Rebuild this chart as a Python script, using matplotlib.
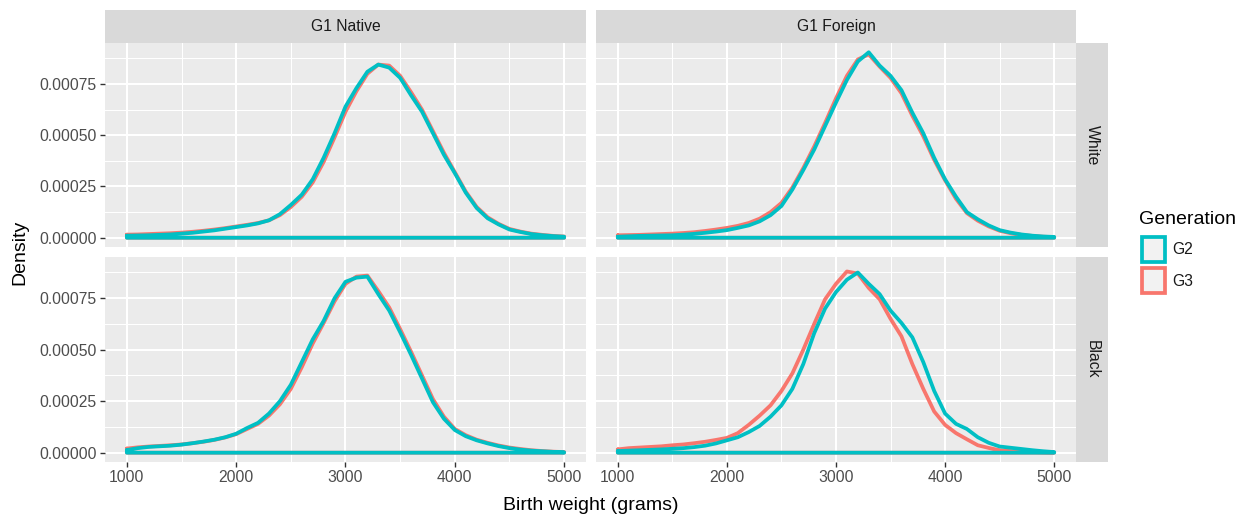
import numpy as np
import matplotlib
matplotlib.use("Agg")
import matplotlib.pyplot as plt
from matplotlib.patches import Rectangle
from matplotlib.ticker import MultipleLocator, FormatStrFormatter

plt.rcParams['font.family'] = ['Liberation Sans', 'DejaVu Sans']

# ---------------- data ----------------
weight = [1000, 1100, 1200, 1300, 1400, 1500, 1600, 1700, 1800, 1900, 2000,
          2100, 2200, 2300, 2400, 2500, 2600, 2700, 2800, 2900, 3000,
          3100, 3200, 3300, 3400, 3500, 3600, 3700, 3800, 3900, 4000,
          4100, 4200, 4300, 4400, 4500, 4600, 4700, 4800, 4900, 5000]

origins = ['G1 Native', 'G1 Foreign']
races = ['White', 'Black']
generations = ['G2', 'G3']
gen_colors = {'G2': '#00BFC4', 'G3': '#F8766D'}

density_unit = 1e-5  # values below are density x 1e5

native_white_g2 = [1.0, 1.1, 1.2, 1.4, 1.6, 2.0, 2.4, 3.0, 3.6, 4.4, 5.2,
                   6.0, 7.0, 8.5, 11.5, 16.0, 21.0, 28.5, 39.0, 51.0, 64.0,
                   73.0, 81.0, 84.5, 83.0, 78.0, 69.5, 61.5, 51.0, 40.5, 31.5,
                   22.0, 14.5, 9.5, 6.5, 4.0, 2.8, 1.8, 1.2, 0.8, 0.5]
native_white_g3 = [1.5, 1.6, 1.8, 2.0, 2.2, 2.5, 2.9, 3.4, 4.0, 4.7, 5.5,
                   6.3, 7.2, 8.5, 11.0, 15.0, 20.0, 27.0, 37.0, 49.0, 61.5,
                   71.5, 80.0, 84.5, 84.0, 79.0, 71.0, 62.5, 52.0, 41.5, 32.0,
                   22.5, 15.0, 10.0, 6.8, 4.3, 3.0, 2.0, 1.4, 0.9, 0.6]

foreign_white_g2 = [0.5, 0.7, 0.9, 1.0, 1.1, 1.2, 1.5, 1.9, 2.4, 3.0, 3.7,
                    4.8, 6.0, 8.0, 11.0, 15.5, 23.5, 33.0, 43.0, 54.5, 66.0,
                    77.0, 86.0, 90.5, 84.0, 79.0, 72.0, 61.0, 51.0, 39.0, 28.5,
                    20.0, 12.5, 9.0, 6.0, 3.7, 2.5, 1.6, 1.0, 0.6, 0.4]
foreign_white_g3 = [1.2, 1.3, 1.4, 1.6, 1.8, 2.0, 2.3, 2.7, 3.3, 4.0, 4.8,
                    5.8, 7.2, 9.3, 12.5, 17.0, 24.5, 34.0, 44.5, 56.0, 68.0,
                    79.0, 87.0, 89.5, 83.5, 78.0, 70.5, 59.5, 49.5, 38.0, 28.0,
                    19.0, 12.0, 8.3, 5.5, 3.4, 2.2, 1.4, 0.9, 0.5, 0.3]

native_black_g2 = [1.3, 2.2, 2.8, 3.1, 3.4, 3.9, 4.6, 5.4, 6.3, 7.5, 9.2,
                   12.0, 14.5, 19.0, 25.0, 33.0, 44.0, 55.0, 64.0, 75.0, 83.0,
                   85.0, 85.5, 77.0, 69.0, 58.5, 47.5, 36.0, 24.5, 16.5, 11.0,
                   8.0, 6.0, 4.5, 3.2, 2.2, 1.5, 1.0, 0.7, 0.4, 0.2]
native_black_g3 = [2.0, 2.6, 3.0, 3.3, 3.6, 4.0, 4.6, 5.3, 6.2, 7.4, 9.0,
                   11.5, 14.0, 18.0, 23.5, 31.0, 41.5, 53.0, 63.0, 73.5, 82.0,
                   85.5, 86.0, 78.5, 70.5, 60.0, 49.0, 37.5, 26.0, 17.5, 11.5,
                   8.5, 6.3, 4.8, 3.5, 2.5, 1.8, 1.2, 0.8, 0.5, 0.3]

foreign_black_g2 = [0.8, 1.0, 1.2, 1.4, 1.6, 1.9, 2.2, 2.7, 3.4, 4.5, 6.0,
                    7.5, 10.0, 13.0, 17.5, 23.0, 31.0, 43.0, 58.0, 70.0, 78.0,
                    84.0, 87.5, 82.0, 77.0, 69.0, 63.0, 56.0, 44.0, 30.0, 19.0,
                    14.0, 11.5, 7.5, 4.8, 3.0, 2.4, 1.8, 1.2, 0.7, 0.3]
foreign_black_g3 = [1.6, 2.2, 2.5, 2.8, 3.1, 3.6, 4.0, 4.6, 5.3, 6.2, 7.2,
                    9.5, 13.5, 18.0, 23.0, 30.0, 38.5, 50.0, 62.5, 74.5, 82.0,
                    88.0, 87.0, 80.0, 74.5, 65.0, 56.5, 43.0, 31.0, 20.0, 13.5,
                    9.5, 6.5, 3.6, 2.3, 1.2, 0.8, 0.5, 0.3, 0.2, 0.1]

curves = {
    ('White', 'G1 Native'): {'G2': native_white_g2, 'G3': native_white_g3},
    ('White', 'G1 Foreign'): {'G2': foreign_white_g2, 'G3': foreign_white_g3},
    ('Black', 'G1 Native'): {'G2': native_black_g2, 'G3': native_black_g3},
    ('Black', 'G1 Foreign'): {'G2': foreign_black_g2, 'G3': foreign_black_g3},
}

y_ticks = [0.0, 0.00025, 0.0005, 0.00075]
x_ticks = [1000, 2000, 3000, 4000, 5000]

# ---------------- layout ----------------
W, H = 1238, 517
fig = plt.figure(figsize=(W / 100, H / 100), dpi=100)
fig.patch.set_facecolor('white')

def fx(px):
    return px / W

def fy(py):
    return 1 - py / H

col_px = [(105, 586), (596, 1076)]
row_px = [(43, 247), (257, 462)]

x = np.array(weight, dtype=float)
xr = x.max() - x.min()
xlim = (x.min() - 0.05 * xr, x.max() + 0.05 * xr)
ymax = max(max(v) for d in curves.values() for v in d.values()) * density_unit
ylim = (-0.05 * ymax, 1.05 * ymax)

strip_fc = '#D9D9D9'
text_dark = '#1A1A1A'
tick_lab = '#4D4D4D'
lw_curve = 2.7

for r, race in enumerate(races):
    for c, origin in enumerate(origins):
        x0, x1 = col_px[c]
        y0, y1 = row_px[r]
        ax = fig.add_axes([fx(x0), fy(y1), (x1 - x0) / W, (y1 - y0) / H])
        ax.set_facecolor('#EBEBEB')
        for s in ax.spines.values():
            s.set_visible(False)
        ax.set_xlim(*xlim)
        ax.set_ylim(*ylim)
        ax.xaxis.set_major_locator(plt.FixedLocator(x_ticks))
        ax.xaxis.set_minor_locator(MultipleLocator(500))
        ax.yaxis.set_major_locator(plt.FixedLocator(y_ticks))
        ax.yaxis.set_minor_locator(MultipleLocator(0.000125))
        ax.yaxis.set_major_formatter(FormatStrFormatter('%.5f'))
        ax.grid(which='major', color='white', linewidth=1.45)
        ax.grid(which='minor', color='white', linewidth=0.75)
        ax.set_axisbelow(True)
        ax.tick_params(which='minor', length=0)
        ax.tick_params(which='major', length=3.5, width=1.0, color='#333333',
                       labelcolor=tick_lab, labelsize=11.3, pad=2.5)
        if c != 0:
            ax.tick_params(axis='y', which='major', length=0, labelleft=False)
        if r != len(races) - 1:
            ax.tick_params(axis='x', which='major', length=0, labelbottom=False)

        for g in ['G3', 'G2']:
            yv = np.array(curves[(race, origin)][g]) * density_unit
            px = np.concatenate([x, [x[-1], x[0], x[0]]])
            py = np.concatenate([yv, [0.0, 0.0, yv[0]]])
            ax.plot(px, py, color=gen_colors[g], linewidth=lw_curve,
                    solid_joinstyle='round', solid_capstyle='round', zorder=3)

# top strips
for c, origin in enumerate(origins):
    x0, x1 = col_px[c]
    fig.patches.append(Rectangle((fx(x0), fy(43)), (x1 - x0) / W, 33 / H,
                                 transform=fig.transFigure, facecolor=strip_fc,
                                 edgecolor='none'))
    fig.text(fx((x0 + x1) / 2), fy(26.5), origin, ha='center', va='center',
             fontsize=11.3, color=text_dark)

# right strips
for r, race in enumerate(races):
    y0, y1 = row_px[r]
    fig.patches.append(Rectangle((fx(1076), fy(y1)), 32 / W, (y1 - y0) / H,
                                 transform=fig.transFigure, facecolor=strip_fc,
                                 edgecolor='none'))
    fig.text(fx(1092), fy((y0 + y1) / 2), race, ha='center', va='center',
             rotation=-90, fontsize=11.3, color=text_dark)

# axis titles
fig.text(fx(20), fy((43 + 462) / 2), 'Density', rotation=90, ha='center',
         va='center', fontsize=14, color='black')
fig.text(fx((105 + 1076) / 2), fy(505), 'Birth weight (grams)', ha='center',
         va='center', fontsize=14, color='black')

# legend
fig.text(fx(1139), fy(220), 'Generation', ha='left', va='center', fontsize=14,
         color='black')
key_tops = [237, 268]
for g, kt in zip(generations, key_tops):
    fig.patches.append(Rectangle((fx(1141.5), fy(kt + 25)), 23 / W, 25 / H,
                                 transform=fig.transFigure, facecolor='#F2F2F2',
                                 edgecolor=gen_colors[g], linewidth=lw_curve))
    fig.text(fx(1172), fy(kt + 13), g, ha='left', va='center', fontsize=11.3,
             color=text_dark)

fig.savefig('out.png', dpi=100)
